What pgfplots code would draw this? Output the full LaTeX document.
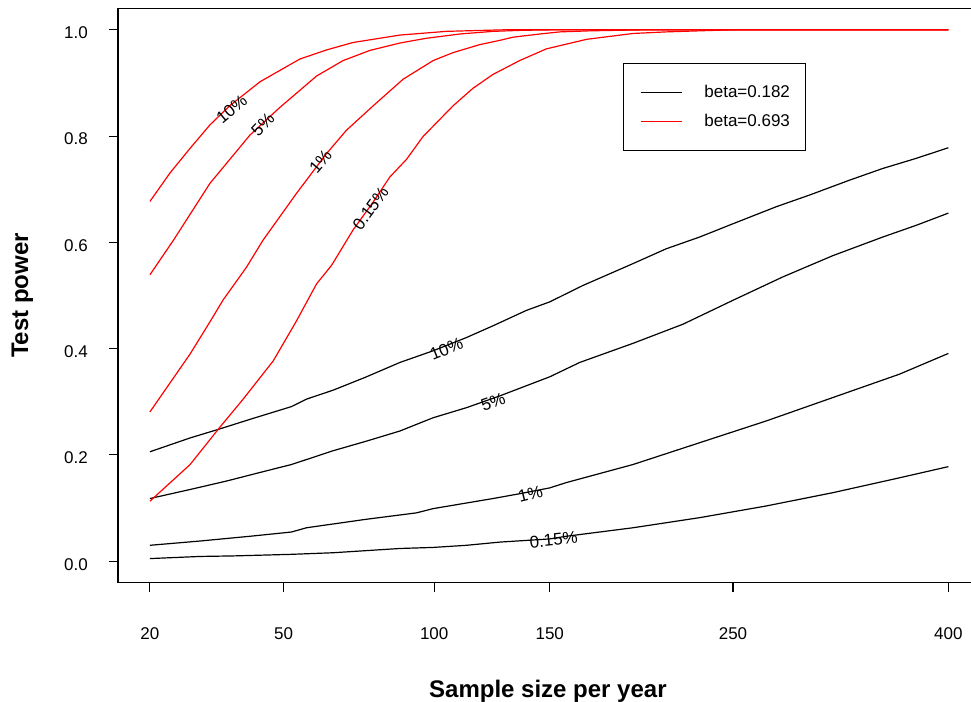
\documentclass[border=0pt]{standalone}
\usepackage{fontspec}
\setmainfont{Liberation Sans}
\usepackage{pgfplots}
\usepackage{pgfplotstable}
\pgfplotsset{compat=1.18}
\newcommand{\lblfont}{\fontsize{17bp}{20bp}\selectfont}
\pgfplotstableread{
n p
20 0.206
27.6 0.232
34 0.249
41.2 0.267
52.2 0.291
56.5 0.305
64.6 0.322
75.4 0.347
87.1 0.374
99.6 0.396
113 0.421
124.2 0.443
139.1 0.472
150 0.488
166.3 0.519
192.3 0.560
210.7 0.588
229.9 0.610
250 0.635
277.3 0.667
299.3 0.689
326.8 0.717
350.6 0.739
375.3 0.758
400 0.778
}\blackA
\pgfplotstableread{
n p
20 0.118
27.6 0.135
35.6 0.151
43.7 0.167
52.2 0.182
64.6 0.208
75.4 0.226
87.1 0.245
99.6 0.270
113 0.289
127.1 0.311
150 0.347
164.6 0.374
192.3 0.410
220.2 0.446
250 0.491
281.6 0.535
315.2 0.575
350.6 0.610
375.3 0.632
400 0.655
}\blackB
\pgfplotstableread{
n p
20 0.030
29.6 0.038
41.2 0.047
52.2 0.055
56.5 0.063
75.4 0.079
93.2 0.091
99.6 0.099
124.2 0.118
136 0.127
150 0.138
158 0.148
192.3 0.182
229.9 0.223
270.9 0.264
315.2 0.308
362.9 0.352
400 0.391
}\blackC
\pgfplotstableread{
n p
20 0.005
29.6 0.009
37.1 0.010
52.2 0.013
64.6 0.016
75.4 0.020
87.1 0.024
99.6 0.026
113 0.030
127.1 0.036
150 0.042
158 0.047
192.3 0.063
229.9 0.082
270.9 0.104
315.2 0.129
362.9 0.157
400 0.178
}\blackD
\pgfplotstableread{
n p
20 0.677
23.6 0.730
27.6 0.777
31.8 0.821
36.3 0.857
43.7 0.902
54.6 0.945
62.5 0.962
70.9 0.976
87.1 0.990
104.8 0.997
130 1.000
400 1.000
}\redA
\pgfplotstableread{
n p
20 0.539
24.3 0.604
31.8 0.711
41.2 0.802
49.0 0.854
59.5 0.913
67.7 0.942
76.5 0.961
87.1 0.975
97.0 0.984
110.2 0.992
124.2 0.997
137.5 0.999
154.8 1.000
400 1.000
}\redB
\pgfplotstableread{
n p
20 0.281
27.6 0.390
32.2 0.456
34.7 0.491
40.3 0.553
44.5 0.604
53.6 0.692
62.5 0.767
68.8 0.811
77.7 0.857
88.3 0.907
99.6 0.942
107.5 0.957
118.5 0.972
127.1 0.980
133.0 0.986
145.3 0.992
154.8 0.996
170 0.998
200 1.000
400 1.000
}\redC
\pgfplotstableread{
n p
20 0.113
27.6 0.182
34 0.252
39.5 0.305
47.2 0.377
53.6 0.452
59.5 0.522
64.1 0.557
70.9 0.623
77.7 0.676
83.5 0.723
89.5 0.756
95.7 0.799
107.5 0.857
115.7 0.890
124.2 0.916
136 0.942
148.4 0.964
154.8 0.970
168.1 0.982
192.3 0.993
210.7 0.996
250 1.000
400 1.000
}\redD
\begin{document}
\begin{tikzpicture}
\begin{axis}[name=ax, scale only axis, width=853bp, height=574bp,
 xmin=3.851, xmax=20.44, ymin=-0.04, ymax=1.04,
 axis lines=left, clip=false,
 xtick={4.47214,7.07107,10,12.24745,15.81139,20},
 xticklabels={20,50,100,150,250,400},
 ytick={0,0.2,0.4,0.6,0.8,1.0},
 yticklabels={0.0,0.2,0.4,0.6,0.8,1.0},
 tick align=outside, major tick length=9bp,
 axis line style={-, line width=1.1bp},
 major tick style={black, line width=1.1bp},
 tick label style={font=\lblfont},
 xticklabel style={anchor=base, yshift=-48bp},
 yticklabel style={anchor=east, inner sep=0pt, xshift=-21bp, yshift=-3bp},
 xlabel={Sample size per year}, ylabel={Test power},
 label style={font=\fontsize{24bp}{28bp}\selectfont\bfseries},
 xlabel style={at={(axis description cs:0.504,-0.2003)}, anchor=base},
 ylabel style={at={(axis description cs:-0.1055,0.5)}, anchor=base},
 legend style={at={(axis description cs:0.5925,0.9054)}, anchor=north west,
   draw=black, line width=1bp, inner xsep=16bp, inner ysep=23bp, row sep=17bp,
   column sep=21.6bp, font=\fontsize{17bp}{20bp}\selectfont,
   nodes={inner sep=0pt, text height=11bp, text depth=1bp}},
 legend cell align=left,
 legend image code/.code={\draw[#1] (0bp,0bp) -- (41.7bp,0bp);},
 every axis plot/.append style={line width=1.2bp},
]
\addlegendimage{black, line width=1.2bp}
\addlegendentry{beta=0.182}
\addlegendimage{red, line width=1.2bp}
\addlegendentry{beta=0.693}
\addplot[black, forget plot] table[x expr={sqrt(\thisrow{n})}, y=p] {\blackA};
\addplot[black, forget plot] table[x expr={sqrt(\thisrow{n})}, y=p] {\blackB};
\addplot[black, forget plot] table[x expr={sqrt(\thisrow{n})}, y=p] {\blackC};
\addplot[black, forget plot] table[x expr={sqrt(\thisrow{n})}, y=p] {\blackD};
\addplot[red, forget plot] table[x expr={sqrt(\thisrow{n})}, y=p] {\redA};
\addplot[red, forget plot] table[x expr={sqrt(\thisrow{n})}, y=p] {\redB};
\addplot[red, forget plot] table[x expr={sqrt(\thisrow{n})}, y=p] {\redC};
\addplot[red, forget plot] table[x expr={sqrt(\thisrow{n})}, y=p] {\redD};
\node[font=\lblfont, rotate=40] at (axis cs:6.060,0.850) {10\%};
\node[font=\lblfont, rotate=46] at (axis cs:6.668,0.821) {5\%};
\node[font=\lblfont, rotate=50] at (axis cs:7.790,0.752) {1\%};
\node[font=\lblfont, rotate=54] at (axis cs:8.762,0.664) {0.15\%};
\node[font=\lblfont, rotate=22] at (axis cs:10.239,0.399) {10\%};
\node[font=\lblfont, rotate=20] at (axis cs:11.145,0.299) {5\%};
\node[font=\lblfont, rotate=14] at (axis cs:11.871,0.127) {1\%};
\node[font=\lblfont, rotate=6] at (axis cs:12.324,0.040) {0.15\%};
\end{axis}
\draw[line width=1.1bp] (ax.north west) -- (ax.north east);
\pgfresetboundingbox
\path[use as bounding box] ([xshift=-118bp,yshift=-119.5bp]ax.south west) rectangle ([xshift=853bp,yshift=582.5bp]ax.south west);
\end{tikzpicture}
\end{document}
